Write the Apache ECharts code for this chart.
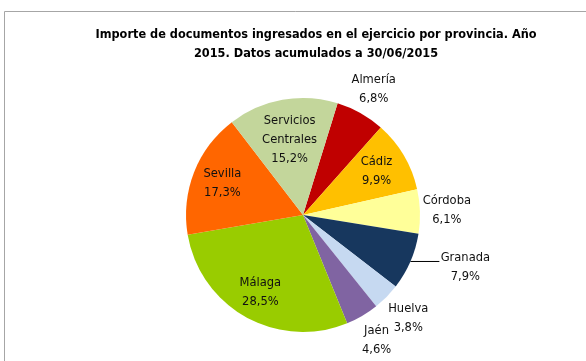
<!DOCTYPE html>
<html>
<head>
<meta charset="utf-8">
<script src="https://cdn.jsdelivr.net/npm/echarts@6/dist/echarts.min.js"></script>
<style>
  html, body { margin: 0; padding: 0; background: #fff; }
  #chart { width: 586px; height: 361px; }
</style>
</head>
<body>
<div id="chart"></div>
<script>
// Provinces (clockwise from Almería) and their share of the amount, in %
const categories = ['Almería', 'Cádiz', 'Córdoba', 'Granada', 'Huelva', 'Jaén', 'Málaga', 'Sevilla', 'Servicios\nCentrales'];
const shares = [6.8, 9.9, 6.1, 7.9, 3.8, 4.6, 28.5, 17.3, 15.2];
const colors = ['#C00000', '#FFC000', '#FFFF99', '#17375E', '#C6D9F1', '#8064A2', '#99CC00', '#FF6600', '#C3D69B'];

const FONT = '"DejaVu Sans Condensed", "Liberation Sans", sans-serif';
const CX = 303, CY = 215, R = 117;
const FIRST_ANGLE = 17.2;            // degrees clockwise from 12 o'clock where the first slice begins

// label distance from the centre as a fraction of the radius
const labelDist = [1.23, 0.73, 1.23, 1.46, 1.26, 1.24, 0.75, 0.74, 0.65];

const total = shares.reduce((a, b) => a + b, 0);
const midAngles = [];
let acc = 0;
shares.forEach(v => {
  midAngles.push((FIRST_ANGLE + (acc + v / 2) / total * 360) * Math.PI / 180);
  acc += v;
});

const fmt = v => v.toFixed(1).replace('.', ',') + '%';

const chart = echarts.init(document.getElementById('chart'), null, { renderer: 'canvas' });

chart.setOption({
  animation: false,
  backgroundColor: '#fff',
  title: {
    text: 'Importe de documentos ingresados en el ejercicio por provincia. Año\n2015. Datos acumulados a 30/06/2015',
    left: 311,
    top: 20,
    textAlign: 'center',
    textStyle: { fontFamily: FONT, fontSize: 12.6, fontWeight: 'bold', color: '#000', lineHeight: 19 }
  },
  graphic: [{
    type: 'rect',
    shape: { x: 4.5, y: 11.5, width: 700, height: 500 },
    style: { fill: 'none', stroke: '#a6a6a6', lineWidth: 1 },
    silent: true
  }],
  series: [{
    type: 'pie',
    center: [CX, CY],
    radius: R,
    startAngle: 90 - FIRST_ANGLE,
    clockwise: true,
    data: categories.map((c, i) => ({
      name: c,
      value: shares[i],
      itemStyle: { color: colors[i] },
      labelLine: { show: i === 3, lineStyle: { color: '#000', width: 1 } }
    })),
    label: {
      show: true,
      position: 'outside',
      formatter: p => p.name + '\n' + fmt(p.value),
      fontFamily: FONT,
      fontSize: 12.8,
      lineHeight: 19,
      color: '#111',
      align: 'center'
    },
    labelLine: { show: false },
    labelLayout: p => {
      const i = p.dataIndex;
      const a = midAngles[i];
      const d = labelDist[i] * R;
      const out = {
        x: CX + d * Math.sin(a),
        y: CY - d * Math.cos(a),
        align: 'center',
        verticalAlign: 'middle'
      };
      if (i === 3) {
        const ex = CX + R * Math.sin(a), ey = CY - R * Math.cos(a);
        out.labelLinePoints = [[ex, ey], [ex + 29, ey], [ex + 29, ey]];
        out.x = ex + 55;
        out.y = ey + 6;
      }
      return out;
    },
    emphasis: { disabled: true }
  }]
});
</script>
</body>
</html>
